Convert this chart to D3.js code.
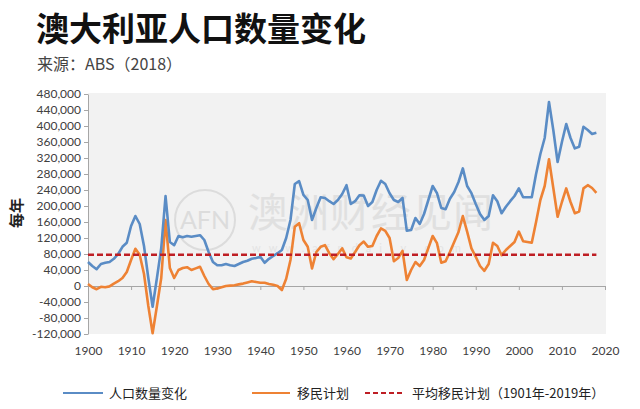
<!DOCTYPE html>
<html>
<head>
<meta charset="utf-8">
<script src="https://cdn.jsdelivr.net/npm/d3@7"></script>
<style>
  html, body { margin: 0; padding: 0; background: #ffffff; }
  svg { display: block; }
</style>
</head>
<body>
<svg id="chart" width="640" height="409"></svg>
<script>
// ---- data ----
const title = "澳大利亚人口数量变化";
const subtitle = "来源：ABS（2018）";
const yAxisTitle = "每年";
const seriesNames = ["人口数量变化", "移民计划", "平均移民计划（1901年-2019年）"];
const years = d3.range(1900, 2019);
const populationChange = [
  60000, 50000, 42000, 55000, 58000, 60000, 68000, 80000, 98000, 108000,
  150000, 175000, 155000, 100000, 20000, -52000, 20000, 95000, 225000, 110000,
  102000, 125000, 122000, 125000, 123000, 125000, 127000, 115000, 85000, 60000,
  52000, 52000, 55000, 52000, 50000, 55000, 60000, 63000, 68000, 70000,
  73000, 58000, 68000, 75000, 82000, 90000, 120000, 165000, 255000, 262000,
  228000, 215000, 165000, 195000, 222000, 220000, 212000, 205000, 215000, 230000,
  252000, 205000, 212000, 227000, 226000, 200000, 210000, 240000, 263000, 255000,
  232000, 215000, 210000, 220000, 138000, 140000, 170000, 155000, 180000, 215000,
  250000, 232000, 195000, 192000, 218000, 235000, 260000, 294000, 250000, 232000,
  205000, 180000, 165000, 175000, 227000, 212000, 182000, 198000, 212000, 225000,
  244000, 222000, 222000, 222000, 280000, 330000, 370000, 460000, 390000, 310000,
  360000, 405000, 370000, 344000, 348000, 398000, 390000, 380000, 383000
];
const netMigration = [
  5000, -3000, -8000, -2000, -3000, -1000, 6000, 12000, 20000, 35000,
  65000, 93000, 78000, 30000, -50000, -118000, -50000, 20000, 165000, 45000,
  20000, 40000, 45000, 47000, 40000, 44000, 48000, 25000, 5000, -8000,
  -6000, -3000, 0, 1000, 2000, 4000, 6000, 9000, 12000, 10000,
  8000, 8000, 5000, 3000, 0, -10000, 18000, 65000, 148000, 157000,
  115000, 98000, 44000, 85000, 98000, 102000, 82000, 67000, 80000, 94000,
  72000, 69000, 85000, 102000, 111000, 98000, 100000, 125000, 144000, 138000,
  120000, 62000, 70000, 88000, 15000, 40000, 60000, 50000, 65000, 95000,
  125000, 107000, 58000, 62000, 85000, 110000, 135000, 175000, 136000, 94000,
  73000, 50000, 38000, 55000, 108000, 100000, 77000, 90000, 100000, 110000,
  136000, 112000, 110000, 108000, 160000, 215000, 250000, 317000, 245000, 173000,
  210000, 244000, 210000, 182000, 186000, 244000, 252000, 245000, 233000
];
const averageMigration = 78000;
const yTicks = [-120000, -80000, -40000, 0, 40000, 80000, 120000, 160000, 200000, 240000, 280000, 320000, 360000, 400000, 440000, 480000];
const xTicks = [1900, 1910, 1920, 1930, 1940, 1950, 1960, 1970, 1980, 1990, 2000, 2010, 2020];

// ---- drawing ----
const svg = d3.select("#chart");
const colors = { pop: "#5a8cc5", mig: "#ee8234", avg: "#be1e24" };
const axisFont = "Lato, 'Open Sans', sans-serif";
const cjkFont = "'Noto Sans CJK SC', sans-serif";

const x = d3.scaleLinear().domain([1900, 2020]).range([88, 605]);
const y = d3.scaleLinear().domain([-120000, 480000]).range([334, 94]);

// plot background
svg.append("rect")
  .attr("x", x(1900)).attr("y", y(480000) - 1)
  .attr("width", x(2020) - x(1900) + 1).attr("height", y(-120000) - y(480000) + 1)
  .attr("fill", "#f2f2f2");

// watermark
const wm = svg.append("g").attr("class", "watermark");
wm.append("circle").attr("cx", 205).attr("cy", 220).attr("r", 30)
  .attr("fill", "none").attr("stroke", "#dcdcdc").attr("stroke-width", 2);
wm.append("text").attr("x", 205).attr("y", 229).attr("text-anchor", "middle")
  .attr("font-family", axisFont).attr("font-size", 25).attr("fill", "#dcdcdc").text("AFN");
wm.append("text").attr("x", 248).attr("y", 227)
  .attr("font-family", cjkFont).attr("font-size", 40).attr("fill", "#e0e0e0")
  .attr("letter-spacing", 1).text("澳洲财经见闻");
wm.append("text").attr("x", 252).attr("y", 252)
  .attr("font-family", axisFont).attr("font-size", 11).attr("fill", "#e4e4e4")
  .attr("letter-spacing", 8).text("www.afndaily.com");

// y axis
const fmt = d => d3.format(",")(d).replace("\u2212", "-");
const yAxis = svg.append("g").attr("transform", `translate(${x(1900)},0)`)
  .call(d3.axisLeft(y).tickValues(yTicks).tickFormat(fmt).tickSize(4).tickPadding(3).tickSizeOuter(0));
yAxis.select(".domain").attr("stroke", "#a6a6a6");
yAxis.selectAll(".tick line").attr("stroke", "#a6a6a6");
yAxis.selectAll(".tick text").attr("font-family", axisFont).attr("font-size", 12).attr("fill", "#404040");

// x axis line at zero
const xAxis = svg.append("g").attr("transform", `translate(0,${y(0)})`)
  .call(d3.axisBottom(x).tickValues(xTicks).tickFormat("").tickSize(4).tickSizeOuter(0));
xAxis.select(".domain").attr("stroke", "#a6a6a6");
xAxis.selectAll(".tick line").attr("stroke", "#a6a6a6");

// x labels at bottom
const xLabels = svg.append("g").attr("transform", `translate(0,340)`)
  .call(d3.axisBottom(x).tickValues(xTicks).tickFormat(d3.format("d")).tickSize(0).tickPadding(6));
xLabels.select(".domain").remove();
xLabels.selectAll(".tick text").attr("font-family", axisFont).attr("font-size", 12).attr("fill", "#404040");

// y title
svg.append("text")
  .attr("transform", `translate(22,213) rotate(-90)`)
  .attr("text-anchor", "middle")
  .attr("font-family", cjkFont).attr("font-size", 15).attr("font-weight", 700)
  .attr("fill", "#222").text(yAxisTitle);

// lines
const line = d3.line().x((d, i) => x(years[i])).y(d => y(d));
svg.append("path").datum(netMigration)
  .attr("d", line).attr("fill", "none").attr("stroke", colors.mig)
  .attr("stroke-width", 2.6).attr("stroke-linejoin", "round");
svg.append("path").datum(populationChange)
  .attr("d", line).attr("fill", "none").attr("stroke", colors.pop)
  .attr("stroke-width", 2.6).attr("stroke-linejoin", "round");
svg.append("line")
  .attr("x1", x(years[0])).attr("x2", x(years[years.length - 1]))
  .attr("y1", y(averageMigration)).attr("y2", y(averageMigration))
  .attr("stroke", colors.avg).attr("stroke-width", 2.6).attr("stroke-dasharray", "6,3");

// title
svg.append("text").attr("x", 36).attr("y", 41)
  .attr("font-family", cjkFont).attr("font-size", 33).attr("font-weight", 700)
  .attr("fill", "#111").text(title);
svg.append("text").attr("x", 37).attr("y", 70)
  .attr("font-family", cjkFont).attr("font-size", 16)
  .attr("fill", "#444").text(subtitle);

// legend
const legend = [
  { name: seriesNames[0], color: colors.pop, dash: null, x1: 63, x2: 103, tx: 109 },
  { name: seriesNames[1], color: colors.mig, dash: null, x1: 252, x2: 290, tx: 297 },
  { name: seriesNames[2], color: colors.avg, dash: "5,3", x1: 365, x2: 404, tx: 412 }
];
const lg = svg.append("g");
legend.forEach(l => {
  lg.append("line").attr("x1", l.x1).attr("x2", l.x2).attr("y1", 393).attr("y2", 393)
    .attr("stroke", l.color).attr("stroke-width", 2).attr("stroke-dasharray", l.dash);
  lg.append("text").attr("x", l.tx).attr("y", 398)
    .attr("font-family", cjkFont).attr("font-size", 13).attr("fill", "#222").text(l.name);
});
</script>
</body>
</html>
